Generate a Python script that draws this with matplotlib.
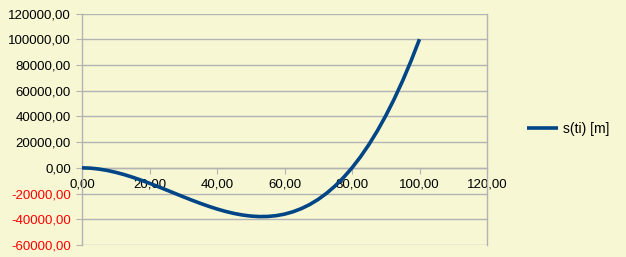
import matplotlib.pyplot as plt
from matplotlib.ticker import FuncFormatter

t = [0, 2.5, 5, 7.5, 10, 12.5, 15, 17.5, 20, 22.5, 25, 27.5, 30, 32.5, 35, 37.5,
     40, 42.5, 45, 47.5, 50, 52.5, 55, 57.5, 60, 62.5, 65, 67.5, 70, 72.5, 75,
     77.5, 80, 82.5, 85, 87.5, 90, 92.5, 95, 97.5, 100]
s = [0, -240, -940, -2040, -3500, -5270, -7310, -9570, -12000, -14560, -17190,
     -19850, -22500, -25090, -27560, -29880, -32000, -33870, -35440, -36660,
     -37500, -37900, -37810, -37200, -36000, -34180, -31690, -28480, -24500,
     -19710, -14060, -7510, 0, 8510, 18060, 28710, 40500, 53480, 67690, 83180, 100000]
series_name = "s(ti) [m]"

bg = "#f7f7d4"
grid_c = "#b3b3b3"
line_c = "#004586"

plt.rcParams['font.family'] = ['Liberation Sans', 'DejaVu Sans']

fig = plt.figure(figsize=(6.26, 2.57), dpi=100, facecolor=bg)
ax = fig.add_axes([82 / 626, 1 - 245 / 257, (487 - 82) / 626, (245 - 13.5) / 257])
ax.set_facecolor(bg)

ax.plot(t, s, color=line_c, lw=2.6, zorder=3, label=series_name,
        solid_capstyle='butt', solid_joinstyle='round')

ax.set_xlim(0, 120)
ax.set_ylim(-60000, 120000)
ax.set_xticks(range(0, 121, 20))
ax.set_yticks(range(-60000, 120001, 20000))

fmt = FuncFormatter(lambda v, p: f"{v:.2f}".replace('.', ','))
ax.xaxis.set_major_formatter(fmt)
ax.yaxis.set_major_formatter(fmt)

ax.grid(axis='y', color=grid_c, lw=1)
ax.set_axisbelow(True)

ax.spines['bottom'].set_position(('data', 0))
ax.spines['top'].set_visible(False)
for sp in ['bottom', 'left', 'right']:
    ax.spines[sp].set_color(grid_c)
    ax.spines[sp].set_linewidth(1)

ax.tick_params(axis='both', colors=grid_c, labelcolor='black', labelsize=9.5)
ax.tick_params(axis='y', length=4.5, pad=3.5)
ax.tick_params(axis='x', length=4, pad=3.5)

for lab, v in zip(ax.get_yticklabels(), ax.get_yticks()):
    if v < 0:
        lab.set_color('red')

leg = fig.legend(loc='center left', bbox_to_anchor=(514 / 626, 1 - 129 / 257),
                 frameon=False, fontsize=10, handlelength=2.3, handletextpad=0.3)

fig.savefig("out.png", dpi=100, facecolor=bg)
